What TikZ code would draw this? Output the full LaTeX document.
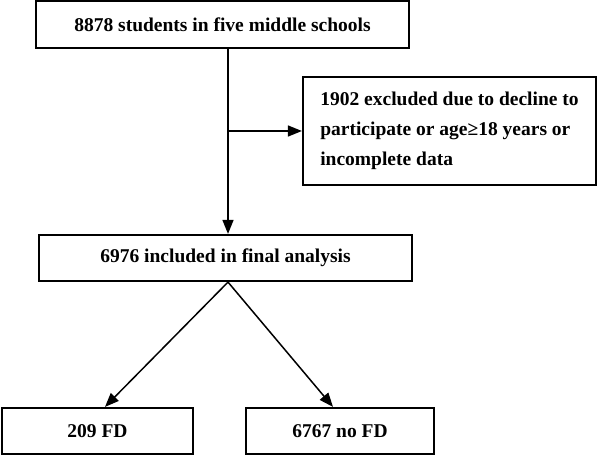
\documentclass[tikz,border=0pt]{standalone}
\usepackage{fontspec}
\setmainfont{Liberation Serif}
\usetikzlibrary{arrows.meta}

\begin{document}
\begin{tikzpicture}[x=1pt,y=-1pt,
		box/.style={draw, line width=2.2pt, inner sep=0pt, font=\bfseries\fontsize{19.5}{30}\selectfont},
		flow/.style={line width=1.5pt, -{Triangle[length=14pt,width=11pt]}}]
		\useasboundingbox (0,0) rectangle (597,457);
		
		% Riquadri
		\node[box, minimum width=373pt, minimum height=47pt] (students) at (222.5,24.5) {8878 students in five middle schools};
		\node[box, minimum width=293pt, minimum height=108pt, align=left] (excluded) at (449.5,131) {1902 excluded due to decline to\\participate or age≥18 years or\\incomplete data};
		\node[box, minimum width=373pt, minimum height=46pt] (included) at (225.5,258) {6976 included in final analysis};
		\node[box, minimum width=191pt, minimum height=46pt] (fd) at (97.5,431) {209 FD};
		\node[box, minimum width=188pt, minimum height=46pt] (nofd) at (340,431) {6767 no FD};
		
		% Frecce
		\draw[flow] ([xshift=5.5pt]students.south) -- ([xshift=2.5pt]included.north);
		\coordinate (split) at ([xshift=5.5pt]students.south |- excluded.west); % Punto di uscita verso gli esclusi
		\draw[flow] (split) -- (excluded.west);
		\draw[flow] ([xshift=2.5pt]included.south) -- ([xshift=7.5pt]fd.north);
		\draw[flow] ([xshift=2.5pt]included.south) -- ([xshift=-7pt]nofd.north);
	\end{tikzpicture}
\end{document}
